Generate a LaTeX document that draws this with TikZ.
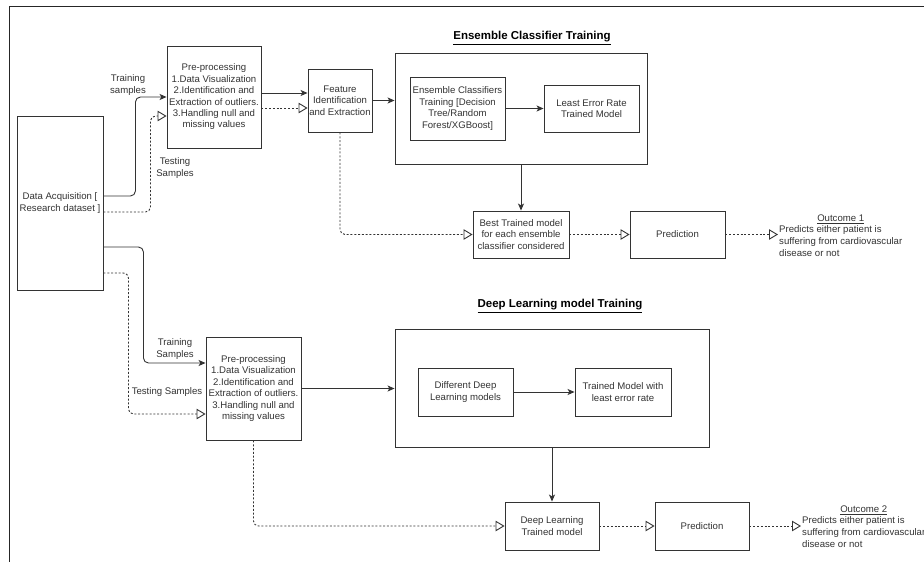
\documentclass[tikz,border=0pt]{standalone}
\usepackage{fontspec}
\setmainfont{Liberation Sans}
\usetikzlibrary{arrows.meta}
\definecolor{ink}{HTML}{333333}
\tikzset{
  box/.style={draw=ink, line width=0.9pt, minimum width=#1, inner sep=1pt, align=center, text=ink,
    font=\fontsize{9.6}{11.4}\selectfont},
  lbl/.style={align=center, text=ink, inner sep=1pt, font=\fontsize{9.6}{11.6}\selectfont},
  ttl/.style={text=black, inner sep=1pt, font=\fontsize{11.5}{13}\selectfont\bfseries},
  solidarr/.style={draw=ink, line width=0.9pt, -{Stealth[length=7pt,width=6pt,inset=1.8pt]}},
  dotarr/.style={draw=ink, line width=0.9pt, dash pattern=on 2pt off 1.8pt, -{Triangle[open,length=9pt,width=10.5pt]}},
  frame/.style={draw=black!85, line width=1pt}
}
\begin{document}
\begin{tikzpicture}[x=1pt,y=-1pt]
\fill[white] (0,0) rectangle (924,562);
\useasboundingbox (0,0) rectangle (924,562);
\draw[frame] (9.5,562) -- (9.5,6) -- (924,6);

% nodes top
\node[box=86pt, minimum height=174pt] (da) at (60,203) {Data Acquisition [\\Research dataset ]};
\node[box=94pt, minimum height=102pt] (pp1) at (214,97) {Pre-processing\\1.Data Visualization\\2.Identification and\\Extraction of outliers.\\3.Handling null and\\missing values};
\node[box=64pt, minimum height=63pt] (fe) at (340,100.5) {Feature\\Identification\\and Extraction};
\node[box=252pt, minimum height=111pt] (ens) at (521,108.5) {};
\node[ttl] (enst) at (532,38) {\underline{Ensemble Classifier Training}};
\node[box=95pt, minimum height=63pt] (ect) at (457.5,108.5) {Ensemble Classifiers\\Training [Decision\\Tree/Random\\Forest/XGBoost]};
\node[box=95pt, minimum height=47pt] (ler) at (591.5,108.5) {Least Error Rate\\Trained Model};
\node[box=96pt, minimum height=47pt] (best) at (521,234.5) {Best Trained model\\for each ensemble\\classifier considered};
\node[box=95pt, minimum height=47pt] (pred1) at (677.5,234.5) {Prediction};
\node[lbl, align=left, anchor=west] (out1) at (778,241) {Predicts either patient is\\suffering from cardiovascular\\disease or not};
\node[lbl, anchor=south] (out1t) at (out1.north) {\underline{Outcome 1}};
\node[lbl] (trs1) at (128,85) {Training\\samples};
\node[lbl] (tes1) at (175,168) {Testing\\Samples};

% nodes bottom
\node[box=95pt, minimum height=103pt] (pp2) at (253.5,388.5) {Pre-processing\\1.Data Visualization\\2.Identification and\\Extraction of outliers.\\3.Handling null and\\missing values};
\node[box=314pt, minimum height=118pt] (dl) at (552,388) {};
\node[ttl] (dlt_t) at (560,306) {\underline{Deep Learning model Training}};
\node[box=95pt, minimum height=48pt] (ddl) at (465.5,392) {Different Deep\\Learning models};
\node[box=96pt, minimum height=48pt] (tm) at (623,392) {Trained Model with\\least error rate};
\node[box=94pt, minimum height=48pt] (dlt) at (552,526) {Deep Learning\\Trained model};
\node[box=94pt, minimum height=48pt] (pred2) at (702,526) {Prediction};
\node[lbl, align=left, anchor=west] (out2) at (801,532) {Predicts either patient is\\suffering from cardiovascular\\disease or not};
\node[lbl, anchor=south] (out2t) at (out2.north) {\underline{Outcome 2}};
\node[lbl] (trs2) at (175,349) {Training\\Samples};
\node[lbl] (tes2) at (167,392) {Testing Samples};

% connectors top
\draw[solidarr, rounded corners=5pt] ([yshift=7pt]da.east) -- ++(32,0) |- (pp1.west);
\draw[dotarr, rounded corners=5pt] ([yshift=-9pt]da.east) -- ++(47,0) |- ([yshift=-19pt]pp1.west);
\draw[solidarr] ([yshift=4pt]pp1.east) -- ([yshift=7.5pt]fe.west);
\draw[dotarr] ([yshift=-11pt]pp1.east) -- ([yshift=-7.5pt]fe.west);
\draw[solidarr] (fe.east) -- (fe.east -| ens.west);
\draw[solidarr] (ect.east) -- (ler.west);
\draw[solidarr] (ens.south) -- (best.north);
\draw[dotarr, rounded corners=5pt] (fe.south) |- (best.west);
\draw[dotarr] (best.east) -- (pred1.west);
\draw[dotarr] (pred1.east) -- (pred1.east -| out1.west);

% connectors bottom
\draw[solidarr, rounded corners=5pt] ([yshift=-44pt]da.east) -- ++(40,0) |- ([yshift=25.5pt]pp2.west);
\draw[dotarr, rounded corners=5pt] ([yshift=-70pt]da.east) -- ++(25,0) |- ([yshift=-25.5pt]pp2.west);
\draw[solidarr] (pp2.east) -- (pp2.east -| dl.west);
\draw[solidarr] (ddl.east) -- (tm.west);
\draw[solidarr] (dl.south) -- (dlt.north);
\draw[dotarr, rounded corners=5pt] (pp2.south) |- (dlt.west);
\draw[dotarr] (dlt.east) -- (pred2.west);
\draw[dotarr] (pred2.east) -- (pred2.east -| out2.west);
\end{tikzpicture}
\end{document}
